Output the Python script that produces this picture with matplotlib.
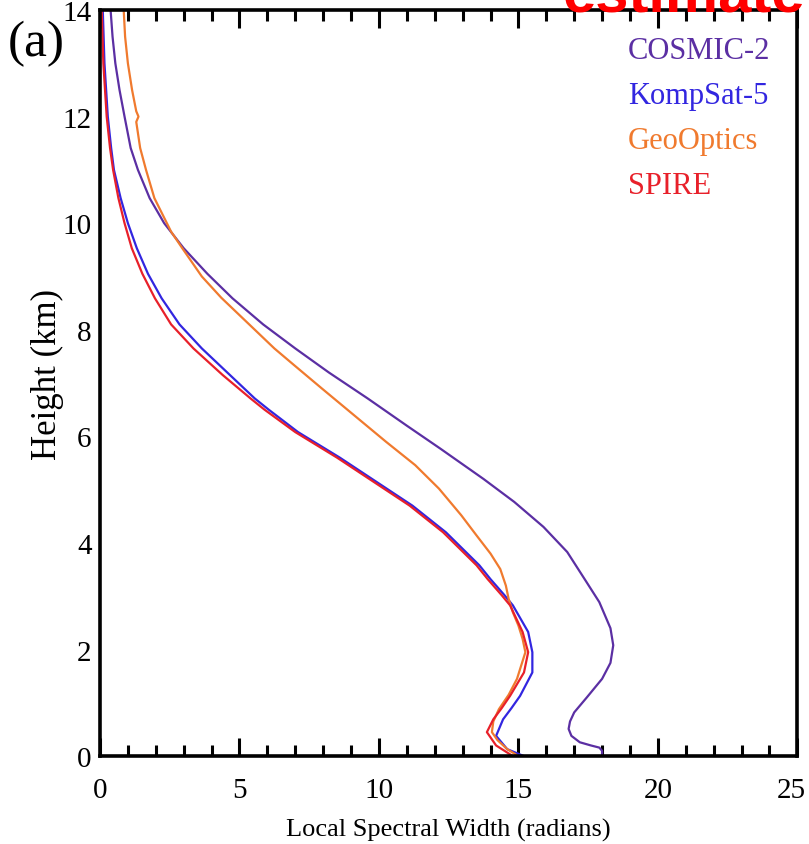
import matplotlib
matplotlib.use("Agg")
import matplotlib.pyplot as plt
from matplotlib.ticker import MultipleLocator
from matplotlib.transforms import ScaledTranslation

# ---- data ----
cosmic_h = [0.0, 0.1, 0.16, 0.2, 0.26, 0.38, 0.51, 0.65, 0.82, 1.1, 1.45, 1.75, 2.08, 2.4, 2.89,
            3.3, 3.83, 4.3, 4.77, 5.2, 5.77, 6.2, 6.71, 7.2, 7.65, 8.1, 8.59, 9.05, 9.53, 10.0,
            10.47, 11.0, 11.41, 12.0, 12.5, 13.0, 13.5, 14.0]
cosmic_w = [18.0, 18.0, 17.9, 17.6, 17.2, 16.9, 16.8, 16.85, 17.0, 17.45, 18.0, 18.3, 18.4, 18.3,
            17.9, 17.4, 16.75, 15.9, 14.85, 13.75, 12.2, 11.0, 9.6, 8.2, 7.0, 5.85, 4.75, 3.85,
            3.0, 2.3, 1.78, 1.36, 1.1, 0.88, 0.7, 0.55, 0.45, 0.38]

komp_h = [0.0, 0.13, 0.38, 0.69, 0.9, 1.13, 1.57, 1.95, 2.33, 2.83, 3.02, 3.32, 3.58, 4.2, 4.7,
          5.15, 5.6, 6.08, 6.5, 6.71, 7.15, 7.65, 8.1, 8.59, 9.05, 9.53, 10.0, 10.47, 11.0, 11.41,
          12.0, 13.0, 14.0]
komp_w = [15.2, 14.6, 14.2, 14.45, 14.75, 15.06, 15.5, 15.5, 15.35, 14.8, 14.5, 14.0, 13.6, 12.4,
          11.2, 9.9, 8.6, 7.1, 6.05, 5.55, 4.66, 3.65, 2.85, 2.21, 1.72, 1.32, 1.0, 0.74, 0.5, 0.4,
          0.28, 0.16, 0.1]

geo_h = [0.0, 0.13, 0.3, 0.45, 0.65, 0.88, 1.15, 1.45, 1.95, 2.2, 2.45, 2.7, 2.95, 3.2, 3.51,
         3.8, 4.14, 4.52, 5.02, 5.46, 5.9, 6.4, 6.9, 7.34, 7.65, 8.3, 8.6, 9.0, 9.53, 9.84, 10.47,
         11.0, 11.41, 11.9, 12.0, 12.1, 12.5, 13.0, 13.5, 14.0]
geo_w = [15.0, 14.6, 14.25, 14.05, 14.1, 14.3, 14.65, 14.95, 15.25, 15.15, 15.0, 14.8, 14.65,
         14.55, 14.35, 14.0, 13.5, 12.95, 12.15, 11.3, 10.25, 9.1, 7.95, 6.95, 6.25, 4.95, 4.35,
         3.65, 2.95, 2.55, 1.95, 1.65, 1.44, 1.3, 1.38, 1.3, 1.15, 1.0, 0.9, 0.85]

spire_h = [0.0, 0.2, 0.45, 0.69, 0.9, 1.13, 1.57, 1.95, 2.33, 2.83, 3.02, 3.32, 3.58, 4.2, 4.7,
           5.15, 5.6, 6.08, 6.5, 6.71, 7.15, 7.65, 8.1, 8.59, 9.05, 9.53, 10.0, 10.47, 11.0,
           11.41, 12.0, 13.0, 14.0]
spire_w = [14.8, 14.2, 13.87, 14.1, 14.4, 14.7, 15.2, 15.35, 15.15, 14.7, 14.4, 13.9, 13.5, 12.3,
           11.1, 9.8, 8.5, 7.0, 5.9, 5.4, 4.4, 3.35, 2.55, 1.97, 1.52, 1.14, 0.88, 0.66, 0.47,
           0.36, 0.24, 0.12, 0.06]

names = ["COSMIC-2", "KompSat-5", "GeoOptics", "SPIRE"]
colors = ["#5b2fa3", "#3226e0", "#f07a2e", "#e8202a"]

xticks = [0, 5, 10, 15, 20, 25]
yticks = [0, 2, 4, 6, 8, 10, 12, 14]

plt.rcParams['font.family'] = ['Liberation Serif', 'DejaVu Serif']

fig = plt.figure(figsize=(8.09, 8.45), dpi=100)
ax = fig.add_axes([0.1236, 0.104, 0.862, 0.883])

series = [(cosmic_w, cosmic_h), (komp_w, komp_h), (geo_w, geo_h), (spire_w, spire_h)]
for (w, h), name, c in zip(series, names, colors):
    ax.plot(w, h, color=c, lw=1.6, label=name, solid_joinstyle='round')

ax.set_xlim(0, 25)
ax.set_ylim(0, 14)
ax.set_xticks(xticks)
ax.set_yticks(yticks)
ax.xaxis.set_minor_locator(MultipleLocator(1))
ax.tick_params(axis='x', which='both', direction='in', top=True, width=2.2, labelsize=21, pad=15)
ax.tick_params(axis='x', which='major', length=13)
ax.tick_params(axis='x', which='minor', length=8)
ax.tick_params(axis='y', which='both', length=0, labelsize=21, pad=6)
for s in ax.spines.values():
    s.set_linewidth(2.6)

# keep the last x tick label inside the figure
last = ax.get_xticklabels()[-1]
last.set_transform(last.get_transform() + ScaledTranslation(-6 / 100, 0, fig.dpi_scale_trans))

ax.set_xlabel("Local Spectral Width (radians)", fontsize=19, labelpad=11)
ax.set_ylabel("Height (km)", fontsize=25)
ax.yaxis.set_label_coords(-0.052, 0.513)

leg = ax.legend(loc='upper left', frameon=False, handlelength=0, handletextpad=0,
                fontsize=22, labelspacing=0.52, borderpad=0, borderaxespad=0,
                bbox_to_anchor=(0.7575, 0.965))
for t, c in zip(leg.get_texts(), colors):
    t.set_color(c)
for hnd in leg.legend_handles:
    hnd.set_visible(False)

fig.text(0.01, 0.975, "(a)", fontsize=37, va='top', ha='left')
fig.text(0.995, 0.986, "estimate", fontsize=43, fontweight='bold', color='#ff0000',
         family='Liberation Sans', ha='right', va='baseline')

fig.savefig("out.png", dpi=100)
